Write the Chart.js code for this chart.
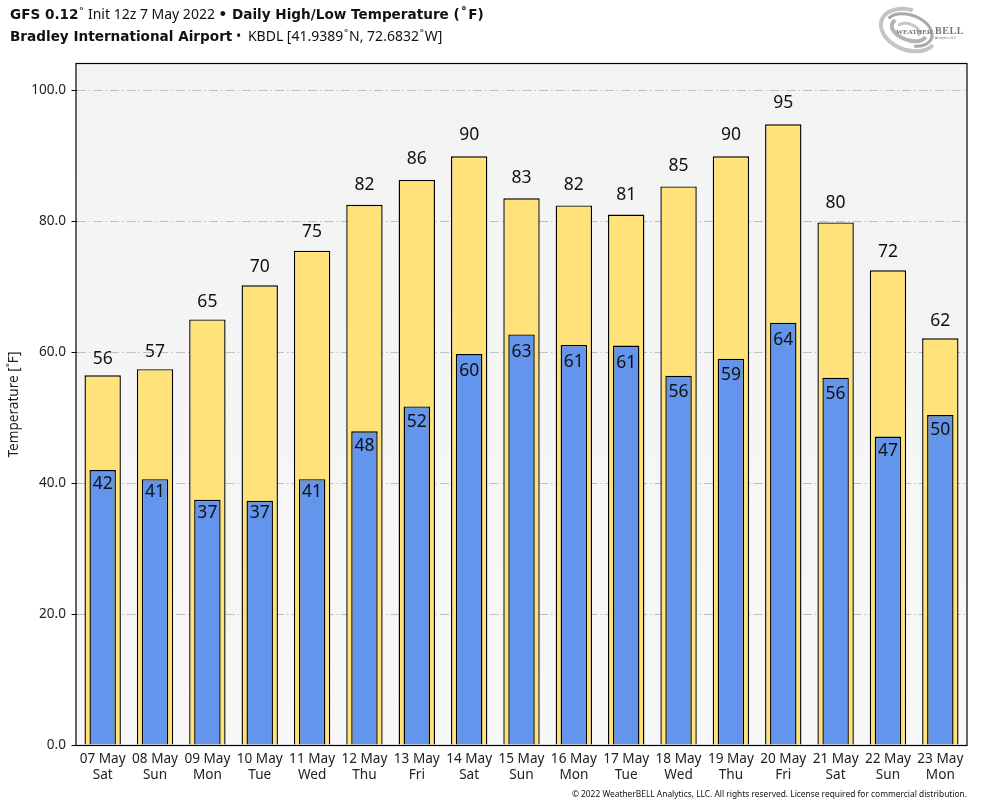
<!DOCTYPE html>
<html>
<head>
<meta charset="utf-8">
<title>GFS Daily High/Low Temperature</title>
<script src="https://cdn.jsdelivr.net/npm/chart.js@4"></script>
<style>
  html, body { margin: 0; padding: 0; background: #fff; }
  #wrap { position: relative; width: 984px; height: 808px; overflow: hidden; font-family: "Noto Sans", sans-serif; color: #111; }
  #chart { position: absolute; left: 0; top: 0; }
  .head { position: absolute; left: 10px; font-size: 14px; line-height: 18px; white-space: nowrap; }
  .head b { font-family: "DejaVu Sans", sans-serif; font-size: 13.6px; font-weight: bold; }
  .head i { font-style: normal; margin: 0 0.8px; }
  #foot { position: absolute; right: 17px; top: 788px; font-size: 8.4px; line-height: 12px; white-space: nowrap; }
</style>
</head>
<body>
<div id="wrap">
  <canvas id="chart" width="984" height="808"></canvas>
  <div class="head" style="top:5px"><b>GFS 0.12</b><i>˚</i> Init 12z 7 May 2022 <b>• Daily High/Low Temperature (<i>˚</i>F)</b></div>
  <div class="head" style="top:27px"><b>Bradley International Airport</b> • <span style="margin-left:3px">KBDL</span> [41.9389<i>˚</i>N, 72.6832<i>˚</i>W]</div>
  <div id="foot">© 2022 WeatherBELL Analytics, LLC. All rights reserved. License required for commercial distribution.</div>
</div>
<script>
const days = ['07 May', '08 May', '09 May', '10 May', '11 May', '12 May', '13 May', '14 May', '15 May',
  '16 May', '17 May', '18 May', '19 May', '20 May', '21 May', '22 May', '23 May'];
const weekdays = ['Sat', 'Sun', 'Mon', 'Tue', 'Wed', 'Thu', 'Fri', 'Sat', 'Sun',
  'Mon', 'Tue', 'Wed', 'Thu', 'Fri', 'Sat', 'Sun', 'Mon'];
const highs = [56.45, 57.4, 65.0, 70.2, 75.49, 82.49, 86.3, 89.9, 83.49, 82.4, 81.0, 85.3, 89.9, 94.8, 79.8, 72.49, 62.1];
const lows = [42.0, 40.6, 37.45, 37.3, 40.6, 47.9, 51.7, 59.7, 62.7, 61.1, 61.0, 56.4, 59.0, 64.49, 56.1, 47.1, 50.4];
const yTicks = [0, 20, 40, 60, 80, 100];

const FONT = '"Noto Sans", sans-serif';

// plot background, frame, value labels and logo
const decor = {
  id: 'decor',
  beforeDraw(chart) {
    const { ctx, chartArea: a } = chart;
    const g = ctx.createLinearGradient(0, a.top, 0, a.bottom);
    g.addColorStop(0, '#f3f3f3');
    g.addColorStop(1, '#f7f7f7');
    ctx.save();
    ctx.fillStyle = g;
    ctx.fillRect(a.left, a.top, a.right - a.left, a.bottom - a.top);
    ctx.restore();
  },
  afterDatasetsDraw(chart) {
    const { ctx, chartArea: a } = chart;
    const xs = chart.scales.x, ys = chart.scales.y;
    ctx.save();
    ctx.font = '17.5px ' + FONT;
    ctx.fillStyle = '#111';
    ctx.textAlign = 'center';
    ctx.textBaseline = 'middle';
    // the labels drift a little with the value, as in the original
    highs.forEach((v, i) => ctx.fillText(Math.round(v), xs.getPixelForValue(i), ys.getPixelForValue(v * 1.02 + 1.4)));
    lows.forEach((v, i) => ctx.fillText(Math.round(v), xs.getPixelForValue(i), ys.getPixelForValue(v * 0.972 - 0.9)));
    ctx.strokeStyle = '#000';
    ctx.lineWidth = 1.2;
    ctx.strokeRect(a.left - 0.5, a.top - 0.5, a.right - a.left + 1, a.bottom - a.top + 1);
    ctx.restore();
    drawLogo(ctx);
  }
};

function drawLogo(ctx) {
  ctx.save();
  ctx.translate(909, 30);
  ctx.rotate(0.35);
  [[29, 20, '#c4c4c4', 4, 0.3, 4.6], [24, 15, '#a8a8a8', 3, 3.4, 7.4], [18, 10, '#b4b4b4', 4, 0.1, 3.6], [11, 6, '#c8c8c8', 3, 3.2, 6.6]].forEach(([rx, ry, color, w, from, to]) => {
    ctx.beginPath();
    ctx.ellipse(0, 0, rx, ry, 0, from, to);
    ctx.strokeStyle = color;
    ctx.lineWidth = w;
    ctx.stroke();
  });
  ctx.restore();
  ctx.save();
  ctx.textBaseline = 'alphabetic';
  ctx.fillStyle = '#777';
  ctx.font = 'bold 7px "Liberation Serif", serif';
  ctx.fillText('WEATHER', 896, 34);
  ctx.font = 'bold 10px "Liberation Serif", serif';
  ctx.letterSpacing = '0.6px';
  ctx.fillText('BELL', 935, 34);
  ctx.letterSpacing = '0px';
  ctx.font = '3.5px "Noto Sans", sans-serif';
  ctx.fillText('Analytics LLC', 935, 39);
  ctx.restore();
}

new Chart(document.getElementById('chart'), {
  type: 'bar',
  data: {
    labels: days.map((d, i) => [d, weekdays[i]]),
    datasets: [
      { label: 'Low', data: lows, order: 1, backgroundColor: '#6495ed', borderColor: '#000', borderWidth: 1.4, barPercentage: 0.505 },
      { label: 'High', data: highs, order: 2, backgroundColor: '#ffe37a', borderColor: '#000', borderWidth: 1.4, barPercentage: 0.695 }
    ]
  },
  options: {
    responsive: false,
    animation: false,
    devicePixelRatio: 1,
    layout: { padding: { top: 64, right: 17.5, left: 0, bottom: 0 } },
    plugins: { legend: { display: false }, tooltip: { enabled: false } },
    datasets: { bar: { grouped: false, categoryPercentage: 1 } },
    scales: {
      x: {
        grid: { display: false },
        border: { display: false },
        ticks: { color: '#222', font: { family: FONT, size: 13.6, lineHeight: 1.18 }, maxRotation: 0, autoSkip: false, padding: -2 },
        afterFit(s) { s.height = 63; }
      },
      y: {
        min: 0,
        max: 104,
        afterBuildTicks(s) { s.ticks = yTicks.map(v => ({ value: v })); },
        grid: { color: '#c0c0c0', lineWidth: 1, tickColor: '#000', tickLength: 5, tickBorderDash: [] },
        border: { display: false, dash: [9, 3, 1.5, 3] },
        ticks: { color: '#222', font: { family: FONT, size: 13.6 }, padding: 5.5, callback: v => v.toFixed(1) },
        title: { display: true, text: 'Temperature [˚F]', color: '#222', font: { family: FONT, size: 13.6 }, padding: { top: 6, bottom: 0 } },
        afterFit(s) { s.width = 76.5; }
      }
    }
  },
  plugins: [decor]
});
</script>
</body>
</html>
